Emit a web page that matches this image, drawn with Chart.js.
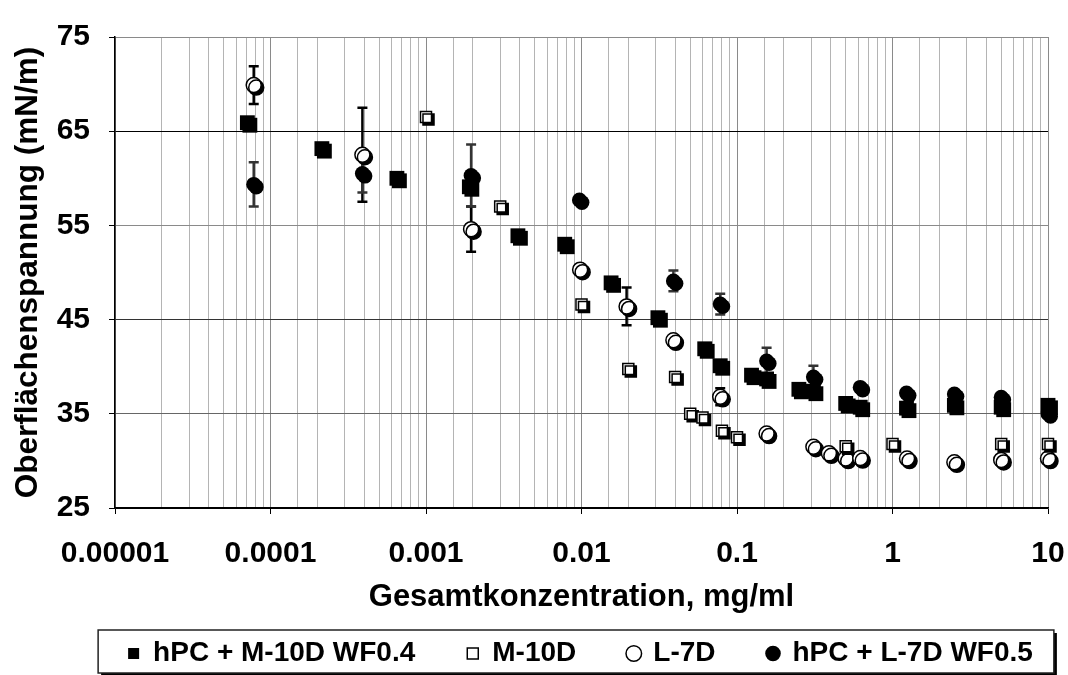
<!DOCTYPE html>
<html>
<head>
<meta charset="utf-8">
<script src="https://cdn.jsdelivr.net/npm/chart.js@4/dist/chart.umd.min.js"></script>
<style>
  html, body { margin: 0; padding: 0; background: #fff; }
</style>
</head>
<body>
<canvas id="chart" width="1068" height="675"></canvas>
<script>
// tick labels of the log axis (one per decade)
const xTickLabels = ['0.00001', '0.0001', '0.001', '0.01', '0.1', '1', '10'];
const seriesNames = ['hPC + M-10D WF0.4', 'M-10D', 'L-7D', 'hPC + L-7D WF0.5'];

// hPC + M-10D WF0.4 (filled squares)
const hpcM10dX = [0.000071, 0.000214, 0.00065, 0.0019, 0.0039, 0.0078, 0.0155, 0.031, 0.062, 0.078, 0.124, 0.155, 0.25, 0.31, 0.5, 0.62, 1.23, 2.5, 5, 10];
const hpcM10dY = [65.9, 63.15, 60.0, 59.1, 53.9, 53.0, 48.9, 45.2, 41.9, 40.1, 39.1, 38.7, 37.6, 37.4, 36.1, 35.7, 35.6, 35.9, 35.7, 35.9];

// M-10D (open squares)
const m10dX = [0.001, 0.003, 0.01, 0.02, 0.04, 0.05, 0.06, 0.08, 0.1, 0.5, 1, 5, 10];
const m10dY = [66.5, 57.0, 46.6, 39.75, 38.9, 35.0, 34.6, 33.2, 32.5, 31.55, 31.8, 31.8, 31.8];

// L-7D (open circles) + error
const l7dX = [0.000078, 0.00039, 0.00195, 0.0098, 0.0195, 0.039, 0.078, 0.155, 0.31, 0.39, 0.5, 0.62, 1.24, 2.5, 5, 10];
const l7dY = [69.9, 62.5, 54.6, 50.3, 46.4, 42.8, 36.8, 32.9, 31.5, 30.8, 30.25, 30.3, 30.25, 29.85, 30.1, 30.25];
const l7dErr = [2, 5, 2.4, 0, 2, 0, 0.9, 0, 0, 0, 0, 0, 0, 0, 0, 0];

// hPC + L-7D WF0.5 (filled circles) + error
const hpcL7dX = [0.000078, 0.00039, 0.00195, 0.0097, 0.039, 0.078, 0.155, 0.31, 0.62, 1.23, 2.5, 5, 10];
const hpcL7dY = [59.35, 60.5, 60.3, 57.7, 49.1, 46.65, 40.6, 38.9, 37.8, 37.2, 37.1, 36.75, 35.0];
const hpcL7dErr = [2.35, 2.0, 3.3, 0, 1.1, 1.1, 1.4, 1.2, 0, 0, 0, 0, 0];

const FONT = "'Liberation Sans', Arial, sans-serif";
const pts = (xs, ys) => xs.map((x, i) => ({ x: x, y: ys[i] }));
const isDecade = v => Math.abs(Math.log10(v) - Math.round(Math.log10(v))) < 1e-6;

// horizontal grid shades like in the scan
const yGridColor = { 75: '#8a8a8a', 65: '#000', 55: '#8a8a8a', 45: '#333', 35: '#666', 25: '#000' };

// error bars, drawn under the markers
const errorBars = {
  id: 'errorBars',
  beforeDatasetsDraw(chart) {
    const ctx = chart.ctx;
    const xs = chart.scales.x, ys = chart.scales.y;
    chart.data.datasets.forEach(ds => {
      if (!ds.errors) return;
      ctx.save();
      ctx.strokeStyle = ds.errorColor;
      ctx.lineWidth = 2.5;
      ds.data.forEach((p, j) => {
        const e = ds.errors[j];
        if (!e) return;
        const px = xs.getPixelForValue(p.x);
        const top = ys.getPixelForValue(p.y + e);
        const bot = ys.getPixelForValue(p.y - e);
        ctx.beginPath();
        ctx.moveTo(px, top); ctx.lineTo(px, bot);
        ctx.moveTo(px - 5, top); ctx.lineTo(px + 5, top);
        ctx.moveTo(px - 5, bot); ctx.lineTo(px + 5, bot);
        ctx.stroke();
      });
      ctx.restore();
    });
  }
};

// hard drop shadow behind every marker
const markerShadow = {
  id: 'markerShadow',
  beforeDatasetDraw(chart) {
    const ctx = chart.ctx;
    ctx.save();
    ctx.shadowColor = '#000';
    ctx.shadowBlur = 0;
    ctx.shadowOffsetX = 2.5;
    ctx.shadowOffsetY = 2.5;
  },
  afterDatasetDraw(chart) {
    chart.ctx.restore();
  }
};

// frame with shadow around the legend
const legendFrame = {
  id: 'legendFrame',
  beforeDraw(chart) {
    const hb = chart.legend && chart.legend.legendHitBoxes;
    if (!hb || !hb.length) return;
    const ctx = chart.ctx;
    const left = Math.min(...hb.map(h => h.left)) - 30;
    const right = Math.max(...hb.map(h => h.left + h.width)) + 21;
    const top = hb[0].top - 9.5;
    const bottom = hb[0].top + hb[0].height + 5.5;
    ctx.save();
    ctx.fillStyle = '#000';
    ctx.fillRect(left + 3, top + 3, right - left, bottom - top);
    ctx.fillStyle = '#fff';
    ctx.fillRect(left, top, right - left, bottom - top);
    ctx.strokeStyle = '#222';
    ctx.lineWidth = 1.5;
    ctx.strokeRect(left, top, right - left, bottom - top);
    ctx.restore();
  }
};

new Chart(document.getElementById('chart').getContext('2d'), {
  type: 'scatter',
  data: {
    datasets: [{
      label: seriesNames[0],
      data: pts(hpcM10dX, hpcM10dY),
      pointStyle: 'rect',
      pointRadius: 10.5,
      backgroundColor: '#000',
      borderColor: '#000',
      borderWidth: 0
    }, {
      label: seriesNames[1],
      data: pts(m10dX, m10dY),
      pointStyle: 'rect',
      pointRadius: 7.8,
      backgroundColor: '#fff',
      borderColor: '#000',
      borderWidth: 1.5
    }, {
      label: seriesNames[2],
      data: pts(l7dX, l7dY),
      errors: l7dErr,
      errorColor: '#000',
      pointStyle: 'circle',
      pointRadius: 7.5,
      backgroundColor: '#fff',
      borderColor: '#000',
      borderWidth: 1.5
    }, {
      label: seriesNames[3],
      data: pts(hpcL7dX, hpcL7dY),
      errors: hpcL7dErr,
      errorColor: '#333',
      pointStyle: 'circle',
      pointRadius: 7.5,
      backgroundColor: '#000',
      borderColor: '#000',
      borderWidth: 0
    }]
  },
  options: {
    responsive: false,
    animation: false,
    events: [],
    clip: false,
    // negative right padding only widens the full-size legend row
    layout: { padding: { left: 0, right: -93, top: 20, bottom: -2.5 } },
    scales: {
      x: {
        type: 'logarithmic',
        min: 0.00001,
        max: 10,
        afterFit: s => { s.height = 79.5; s.paddingLeft = 0; s.paddingRight = 20; },
        border: { color: '#000', width: 1.5 },
        grid: {
          color: c => isDecade(c.tick.value) ? '#8a8a8a' : '#b4b4b4',
          lineWidth: 1,
          tickLength: 6,
          tickColor: c => isDecade(c.tick.value) ? '#000' : 'rgba(0,0,0,0)'
        },
        ticks: {
          autoSkip: false,
          maxRotation: 0,
          padding: 21.5,
          color: '#000',
          font: { family: FONT, size: 30, weight: 'bold' },
          callback: v => isDecade(v) ? xTickLabels[Math.round(Math.log10(v)) + 5] : ''
        },
        title: {
          display: true,
          text: 'Gesamtkonzentration, mg/ml',
          color: '#000',
          font: { family: FONT, size: 31, weight: 'bold' },
          padding: { top: 0, bottom: -28.6 }
        }
      },
      y: {
        min: 25,
        max: 75,
        afterFit: s => { s.width = 115; },
        border: { color: '#000', width: 1.5 },
        grid: {
          color: c => yGridColor[c.tick.value] || '#888',
          lineWidth: 1,
          tickLength: 6,
          tickColor: '#000'
        },
        ticks: {
          stepSize: 10,
          padding: 19,
          color: '#000',
          font: { family: FONT, size: 30, weight: 'bold' }
        },
        title: {
          display: true,
          text: 'Oberflächenspannung (mN/m)',
          color: '#000',
          font: { family: FONT, size: 31.5, weight: 'bold' },
          padding: { top: 9, bottom: 0 }
        }
      }
    },
    plugins: {
      tooltip: { enabled: false },
      legend: {
        position: 'bottom',
        labels: {
          usePointStyle: true,
          boxWidth: 11,
          boxHeight: 11,
          padding: 52,
          color: '#000',
          font: { family: FONT, size: 28, weight: 'bold' }
        }
      }
    }
  },
  plugins: [errorBars, markerShadow, legendFrame]
});
</script>
</body>
</html>
